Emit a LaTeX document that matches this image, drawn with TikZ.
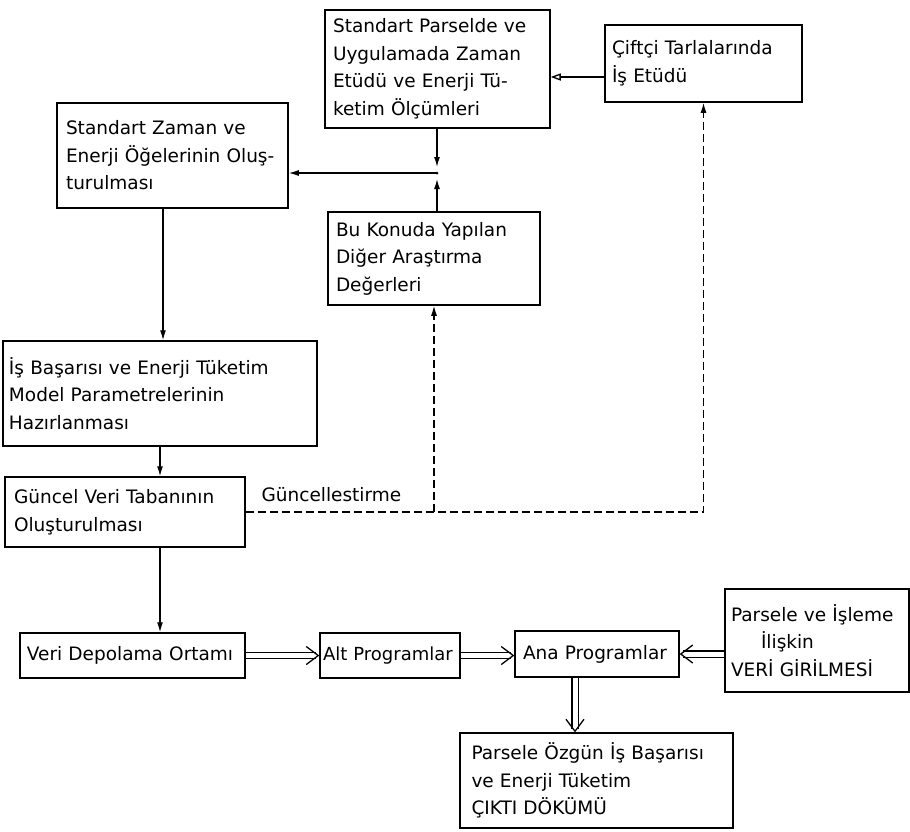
\documentclass[tikz,border=0pt]{standalone}
\usepackage{fontspec}
\setmainfont{DejaVu Sans}
\usetikzlibrary{arrows.meta}
\newfontfamily\boxfontfam{DejaVu Sans}
\tikzset{
  box/.style={draw, line width=1.5pt, inner sep=0pt, align=left,
    font=\boxfontfam\fontsize{18.5}{27.5}\selectfont},
  sarrow/.style={line width=1.3pt, -{Latex[length=10pt,width=6pt]}},
  dline/.style={double, double distance=5pt, line width=1.1pt},
  chev/.style={line width=1.3pt, line join=miter},
  dasharrow/.style={line width=1.2pt, dash pattern=on 8pt off 4pt, -{Latex[length=10pt,width=6pt]}},
}
\begin{document}
\begin{tikzpicture}[x=1pt,y=-1pt]
\useasboundingbox (0,0) rectangle (910,831);
\node[box, minimum width=225pt, minimum height=118pt, text width=209pt] (b1) at (437.5,69)
  {Standart Parselde ve\\Uygulamada Zaman\\Etüdü ve Enerji Tü-\\ketim Ölçümleri};
\node[box, minimum width=197pt, minimum height=77pt, text width=183pt] (b2) at (703.5,63.5)
  {Çiftçi Tarlalarında\\İş Etüdü};
\node[box, minimum width=231pt, minimum height=105pt, text width=213pt] (b3) at (172.5,155.5)
  {Standart Zaman ve\\Enerji Öğelerinin Oluş-\\turulması};
\node[box, minimum width=212pt, minimum height=93pt, text width=196pt] (b4) at (434,258.5)
  {Bu Konuda Yapılan\\Diğer Araştırma\\Değerleri};
\node[box, minimum width=314pt, minimum height=105pt, text width=302pt] (b5) at (160,393.5)
  {İş Başarısı ve Enerji Tüketim\\Model Parametrelerinin\\Hazırlanması};
\node[box, minimum width=240pt, minimum height=70pt, text width=222pt] (b6) at (125,512)
  {Güncel Veri Tabanının\\Oluşturulması};
\node[box, minimum width=225pt, minimum height=45pt, text width=211pt] (b7) at (132.5,655.5)
  {Veri Depolama Ortamı};
\node[box, minimum width=140pt, minimum height=45pt, text width=134pt,
  font=\boxfontfam\fontsize{18}{20}\selectfont] (b8) at (390,655.5)
  {Alt Programlar};
\node[box, minimum width=164pt, minimum height=46pt, text width=148pt] (b9) at (597,654)
  {Ana Programlar};
\node[box, minimum width=184pt, minimum height=103pt, text width=172pt] (b10) at (817,640.5)
  {Parsele ve İşleme\\\hspace*{30pt}İlişkin\\VERİ GİRİLMESİ};
\node[box, minimum width=273pt, minimum height=95pt, text width=250pt] (b11) at (596.5,780.5)
  {Parsele Özgün İş Başarısı\\ve Enerji Tüketim\\ÇIKTI DÖKÜMÜ};
\node[font=\boxfontfam\fontsize{18.5}{20}\selectfont, anchor=west] (lbl) at (258,495) {Güncellestirme};

% top connectors
\draw[line width=1.3pt, -{Triangle[open,length=10pt,width=7pt]}] (b2.west |- 0,77) -- (b1.east |- 0,77);
\coordinate (J) at (437,173);
\draw[sarrow] (b1.south -| J) -- ([yshift=6pt]J);
\draw[sarrow] (b4.north -| J) -- ([yshift=-6pt]J);
\draw[sarrow] (J) -- (J -| b3.east);
\fill (J) circle (1.5pt);

% vertical chain
\draw[sarrow] ([xshift=-9.5pt]b3.south) -- ([xshift=-9.5pt]b3.south |- b5.north);
\draw[sarrow] (b5.south) -- (b5.south |- b6.north);
\draw[sarrow] (b5.south |- b6.south) -- (b5.south |- b7.north);

% dashed update lines
\draw[dasharrow] (b6.east) -| (b2.south);
\draw[dasharrow] (b6.east -| b4.south) -- (b4.south);

% double arrows
\coordinate (t8) at ([xshift=-1pt]b8.west);
\coordinate (t9) at ([xshift=-1pt]b8.east -| b9.west);
\coordinate (t9r) at ([xshift=1pt]b9.east);
\coordinate (t11) at ([xshift=-22pt,yshift=1pt]b9.south |- b11.north);
\draw[dline] (b7.east) -- ([xshift=-2pt]t8);
\draw[chev] ([shift={(-12,-9)}]t8) -- (t8) -- ([shift={(-12,9)}]t8);
\draw[dline] (b8.east) -- ([xshift=-2pt]t9);
\draw[chev] ([shift={(-12,-9)}]t9) -- (t9) -- ([shift={(-12,9)}]t9);
\draw[dline] (b9.east -| b10.west) -- ([xshift=2pt]t9r);
\draw[chev] ([shift={(12,-9)}]t9r) -- (t9r) -- ([shift={(12,9)}]t9r);
\draw[dline] ([xshift=-22pt]b9.south) -- ([yshift=2pt]t11);
\draw[chev] ([shift={(-9,-12)}]t11) -- (t11) -- ([shift={(9,-12)}]t11);
\end{tikzpicture}
\end{document}
